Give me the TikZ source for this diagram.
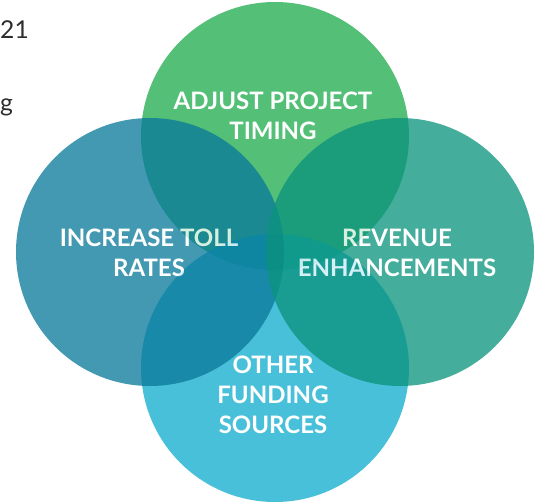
\documentclass[tikz,border=0pt]{standalone}
\usepackage{fontspec}
\setmainfont{Lato}
\usepackage{xcolor}
\definecolor{timinggreen}{RGB}{29,171,76}
\definecolor{tollblue}{RGB}{9,121,154}
\definecolor{revenueteal}{RGB}{10,147,125}
\definecolor{fundingcyan}{RGB}{16,172,205}
\definecolor{pagegray}{RGB}{45,45,45}

\begin{document}
\begin{tikzpicture}[x=0.03cm,y=-0.03cm,
    lbl/.style={text=white,font=\bfseries\fontsize{20.5}{25.5}\selectfont,align=center},
    pagetxt/.style={text=pagegray,font=\fontsize{21}{25}\selectfont,inner sep=0pt}]
                \useasboundingbox (0,0) rectangle (535,502);
                % text of the page, at the left edge
                \node[pagetxt,anchor=base west] (pagea) at (0,38) {21};
                \node[pagetxt,anchor=base west] (pageb) at (0,111) {g};

                % top circle
                \begin{scope}[transparency group,opacity=0.76]
                \fill[timinggreen] (275,136) circle (134);
                \node[lbl] (timing) at (273,116) {ADJUST PROJECT\\TIMING};
                \end{scope}
                % bottom circle
                \begin{scope}[transparency group,opacity=0.76]
                \fill[fundingcyan] (275,368) circle (134);
                \node[lbl] (funding) at (273,395) {OTHER\\FUNDING\\SOURCES};
                \end{scope}
                % left circle
                \begin{scope}[transparency group,opacity=0.76]
                \fill[tollblue] (150,252) circle (134);
                \node[lbl] (toll) at (149,253) {INCREASE TOLL\\RATES};
                \end{scope}
                % right circle
                \begin{scope}[transparency group,opacity=0.76]
                \fill[revenueteal] (400,252) circle (134);
                \node[lbl] (revenue) at (397,253) {REVENUE\\ENHANCEMENTS};
                \end{scope}
\end{tikzpicture}
\end{document}
